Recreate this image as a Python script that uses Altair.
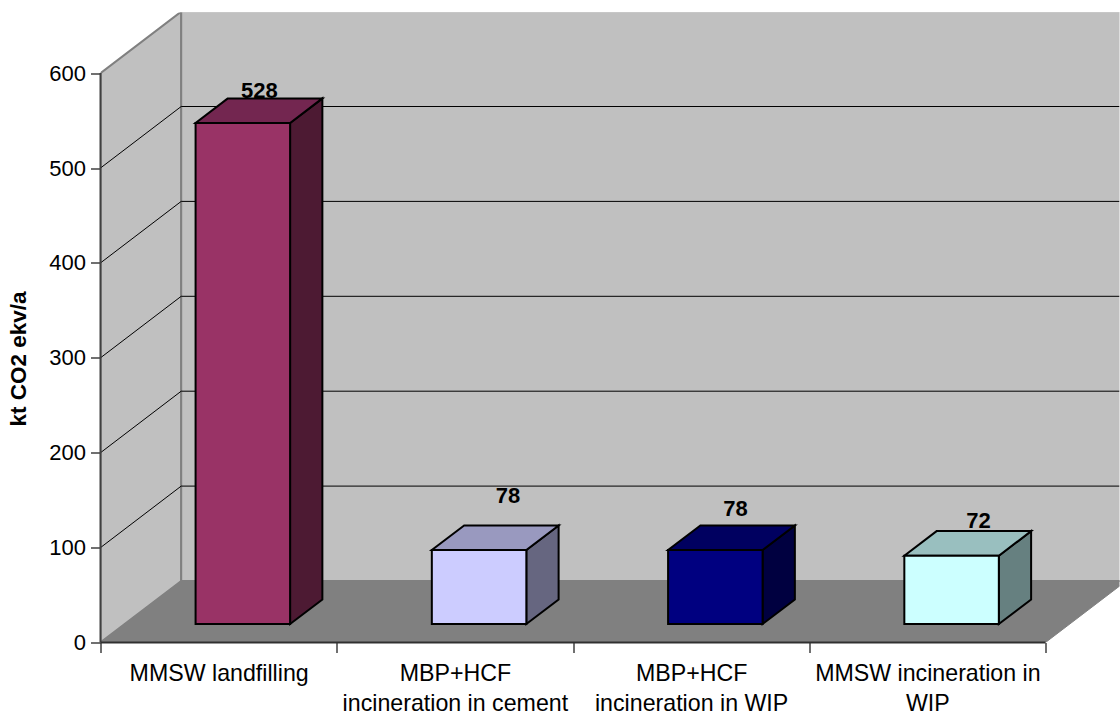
import json
import altair as alt
import pandas as pd

# Chart values
categories = [
    ["MMSW landfilling"],
    ["MBP+HCF", "incineration in cement"],
    ["MBP+HCF", "incineration in WIP"],
    ["MMSW incineration in", "WIP"],
]
emissions = [528, 78, 78, 72]
value_ticks = [0, 100, 200, 300, 400, 500, 600]
value_title = "kt CO2 ekv/a"

# Face colours for each bar: front, top, side
front_colors = ["#993366", "#CCCCFF", "#000080", "#CCFFFF"]
top_colors = ["#732650", "#9999BF", "#000060", "#99BFBF"]
side_colors = ["#4D1A33", "#666680", "#000040", "#668080"]

# Layout of the oblique box, in pixels and pixels per data unit
FONT = "Liberation Sans"
PLOT_W, PLOT_H = 1019, 630
PX_PER_CAT = 236.25
PX_PER_VAL = 0.949
DEPTH_X = 80.7 / PX_PER_CAT
DEPTH_Y = 61.5 / PX_PER_VAL
X_MAX = PLOT_W / PX_PER_CAT
Y_MAX = PLOT_H / PX_PER_VAL
TOP_VAL = value_ticks[-1]
N = len(categories)
GAP = 0.3
BAR_W = 0.4
NEAR, FAR = 0.3, 0.7
# Hand-placed value labels: (dx, dy) in pixels from the top face
LABEL_NUDGE = [(0.5, -0.5), (12.8, -22.8), (4, -9.8), (10.8, -3.4)]

# Axes: ticks on category boundaries, labels between them
cat_expr = (
    "datum.value % 1 == 0 ? '' : "
    + json.dumps(categories) + "[floor(datum.value)]"
)
x_axis = alt.Axis(
    values=[k / 2 for k in range(2 * N + 1)],
    labelExpr=cat_expr,
    title=None, domain=False, grid=False,
    tickSize=10, tickColor="#404040", tickWidth=1.5,
    tickOpacity=alt.expr("datum.value % 1 == 0 ? 1 : 0"),
    labelFont=FONT, labelFontSize=23.2, labelColor="#000000",
    labelPadding=9.5, labelLineHeight=30, labelOverlap=False, labelFlush=False,
    labelBound=False, labelLimit=400,
)
y_axis = alt.Axis(
    values=value_ticks, title=value_title, domain=False, grid=False,
    tickSize=10, tickColor="#404040", tickWidth=1.5,
    labelFont=FONT, labelFontSize=22, labelColor="#000000", labelPadding=5,
    labelOverlap=False, labelBound=False, labelFlush=False,
    titleFont=FONT, titleFontSize=22.5, titleFontWeight="bold", titleColor="#000000",
    titlePadding=18, titleY=346,
)

xs = alt.Scale(domain=[0, X_MAX], nice=False, zero=False)
ys = alt.Scale(domain=[0, Y_MAX], nice=False, zero=False)
X = alt.X("x:Q", scale=xs, axis=x_axis)
Y = alt.Y("y:Q", scale=ys, axis=y_axis)

# Walls and floor
left_wall = pd.DataFrame([
    {"x": 0, "y": 0, "y2": TOP_VAL},
    {"x": DEPTH_X, "y": DEPTH_Y, "y2": TOP_VAL + DEPTH_Y},
])
back_wall = pd.DataFrame([
    {"x": DEPTH_X, "y": DEPTH_Y, "y2": TOP_VAL + DEPTH_Y},
    {"x": X_MAX + 1, "y": DEPTH_Y, "y2": TOP_VAL + DEPTH_Y},
])
floor = pd.DataFrame([
    {"y": 0, "x": 0, "x2": N},
    {"y": DEPTH_Y, "x": DEPTH_X, "x2": N + DEPTH_X},
])


def wall(df):
    return alt.Chart(df).mark_area(
        fill="#C0C0C0", stroke="#808080", strokeWidth=2, clip=True
    ).encode(x=X, y=Y, y2="y2:Q")


floor_layer = alt.Chart(floor).mark_area(
    orient="horizontal", fill="#808080", stroke="#808080", strokeWidth=1, clip=True
).encode(y=Y, x=X, x2="x2:Q")

# Gridlines bend at the corner between the left and back walls
grid_rows = []
for v in value_ticks[1:-1]:
    grid_rows += [
        {"v": v, "o": 0, "x": 0, "y": v},
        {"v": v, "o": 1, "x": DEPTH_X, "y": v + DEPTH_Y},
        {"v": v, "o": 2, "x": X_MAX, "y": v + DEPTH_Y},
    ]
grid = alt.Chart(pd.DataFrame(grid_rows)).mark_line(
    color="#000000", strokeWidth=1, clip=True
).encode(x=X, y=Y, detail="v:N", order="o:Q")

# Bar faces
front_rows, side_rows, top_rows = [], [], []
for i, v in enumerate(emissions):
    xl = i + GAP
    xr = xl + BAR_W
    front_rows.append({
        "x": xl + NEAR * DEPTH_X, "x2": xr + NEAR * DEPTH_X,
        "y": NEAR * DEPTH_Y, "y2": v + NEAR * DEPTH_Y, "c": front_colors[i],
    })
    for f in (NEAR, FAR):
        side_rows.append({
            "x": xr + f * DEPTH_X, "y": f * DEPTH_Y,
            "y2": v + f * DEPTH_Y, "c": side_colors[i], "b": i,
        })
        top_rows.append({
            "y": v + f * DEPTH_Y, "x": xl + f * DEPTH_X,
            "x2": xr + f * DEPTH_X, "c": top_colors[i], "b": i,
        })

COLOR = alt.Color("c:N", scale=None, legend=None)
BAR_EDGE = dict(stroke="#000000", strokeWidth=2)
fronts = alt.Chart(pd.DataFrame(front_rows)).mark_rect(**BAR_EDGE).encode(
    x=X, x2="x2:Q", y=Y, y2="y2:Q", fill=alt.Fill("c:N", scale=None, legend=None)
)
sides = alt.Chart(pd.DataFrame(side_rows)).mark_area(**BAR_EDGE).encode(
    x=X, y=Y, y2="y2:Q", color=COLOR, detail="b:N"
)
tops = alt.Chart(pd.DataFrame(top_rows)).mark_area(orient="horizontal", **BAR_EDGE).encode(
    y=Y, x=X, x2="x2:Q", color=COLOR, detail="b:N"
)

# Value labels above the bars
value_labels = []
for i, v in enumerate(emissions):
    row = pd.DataFrame([{
        "x": i + 0.5 + 0.5 * DEPTH_X, "y": v + FAR * DEPTH_Y, "t": str(v),
    }])
    value_labels.append(alt.Chart(row).mark_text(
        font=FONT, fontSize=22, fontWeight="bold", color="#000000",
        baseline="alphabetic", align="center",
        dx=LABEL_NUDGE[i][0], dy=LABEL_NUDGE[i][1],
    ).encode(x=X, y=Y, text="t:N"))

# Axis lines stop at the last tick rather than at the plot edge
y_axis_line = alt.Chart(pd.DataFrame([{"x": 0, "y": 0, "y2": TOP_VAL}])).mark_rule(
    color="#404040", strokeWidth=2
).encode(x=X, y=Y, y2="y2:Q")
x_axis_line = alt.Chart(pd.DataFrame([{"x": 0, "x2": N, "y": 0}])).mark_rule(
    color="#303030", strokeWidth=2
).encode(x=X, x2="x2:Q", y=Y)

chart = alt.layer(
    wall(left_wall), wall(back_wall), floor_layer, grid,
    sides, tops, fronts, *value_labels, y_axis_line, x_axis_line,
).properties(
    width=PLOT_W, height=PLOT_H,
    padding={"left": 100.5, "top": 12.5, "right": 0, "bottom": 70.5},
    autosize="none", background="#FFFFFF",
).configure_view(stroke=None)

chart.save("out.html", embed_options={"renderer": "svg", "actions": False})
